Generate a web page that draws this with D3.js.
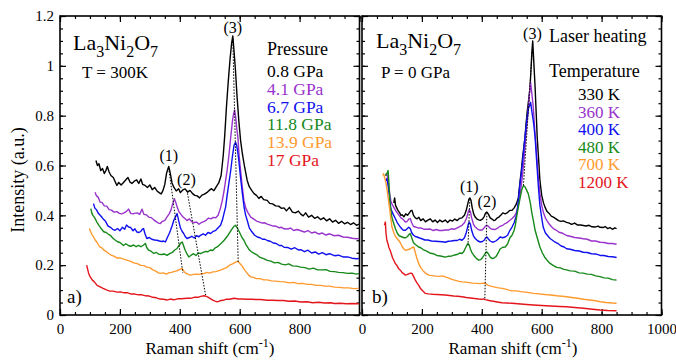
<!DOCTYPE html>
<html>
<head>
<meta charset="utf-8">
<script src="https://cdn.jsdelivr.net/npm/d3@7"></script>
<style>
  body { margin: 0; background: #fff; }
  svg text { font-family: "Liberation Serif", "Times New Roman", serif; }
</style>
</head>
<body>
<div id="chart"></div>
<script>
var svgWidth = 676;
var svgHeight = 360;

// panel a) pressure series
var pressureLabels = ["0.8 GPa", "4.1 GPa", "6.7 GPa", "11.8 GPa", "13.9 GPa", "17 GPa"];
// panel b) laser heating series
var temperatureLabels = ["330 K", "360 K", "400 K", "480 K", "700 K", "1200 K"];
var colors = ["#000000", "#9933cc", "#1010ee", "#17891a", "#ff9a2e", "#e3161c"];

var yTicks = [0, 0.2, 0.4, 0.6, 0.8, 1, 1.2];
var xTicksLeft = [0, 200, 400, 600, 800];
var xTicksRight = [0, 200, 400, 600, 800, 1000];

var p08 = [[120,0.62],[125,0.60],[130,0.607],[136,0.58],[142,0.588],[148,0.568],[152,0.576],[158,0.596],[164,0.574],[170,0.56],[178,0.552],[185,0.533],[190,0.52],[196,0.532],[204,0.522],[212,0.532],[220,0.543],[227,0.552],[234,0.533],[240,0.528],[248,0.537],[256,0.542],[263,0.528],[270,0.546],[276,0.524],[284,0.52],[292,0.512],[300,0.522],[308,0.503],[316,0.512],[324,0.498],[332,0.49],[338,0.486],[344,0.5],[350,0.525],[356,0.57],[363,0.596],[368,0.57],[374,0.53],[380,0.513],[388,0.498],[396,0.507],[402,0.491],[410,0.502],[418,0.506],[426,0.493],[434,0.5],[442,0.488],[450,0.48],[458,0.478],[466,0.47],[474,0.481],[482,0.485],[490,0.491],[498,0.5],[506,0.507],[514,0.499],[522,0.515],[530,0.53],[538,0.56],[545,0.64],[550,0.72],[556,0.84],[562,0.94],[568,1.03],[573,1.09],[577,1.12],[581,1.06],[586,0.98],[591,0.88],[597,0.78],[603,0.7],[609,0.647],[617,0.59],[625,0.54],[632,0.515],[640,0.5],[648,0.487],[656,0.48],[664,0.468],[672,0.476],[680,0.463],[692,0.46],[700,0.448],[710,0.446],[720,0.438],[730,0.437],[740,0.428],[748,0.43],[756,0.418],[766,0.432],[776,0.413],[786,0.41],[796,0.417],[804,0.405],[812,0.398],[820,0.41],[830,0.393],[840,0.4],[850,0.388],[860,0.394],[870,0.383],[880,0.39],[890,0.378],[900,0.386],[910,0.373],[920,0.38],[930,0.368],[940,0.376],[950,0.366],[960,0.372],[970,0.363],[980,0.37],[990,0.36],[998,0.365]];
var p41 = [[117,0.493],[122,0.478],[128,0.472],[134,0.453],[140,0.452],[148,0.438],[156,0.437],[164,0.423],[172,0.421],[180,0.413],[190,0.415],[198,0.408],[206,0.406],[214,0.41],[222,0.416],[229,0.425],[236,0.408],[244,0.406],[251,0.409],[258,0.41],[266,0.404],[274,0.425],[280,0.404],[288,0.402],[296,0.393],[304,0.391],[312,0.383],[320,0.376],[328,0.369],[335,0.367],[342,0.376],[350,0.38],[357,0.393],[364,0.405],[370,0.42],[376,0.445],[382,0.467],[387,0.45],[392,0.43],[397,0.415],[402,0.407],[410,0.394],[418,0.386],[424,0.379],[432,0.386],[440,0.374],[448,0.371],[456,0.373],[464,0.364],[472,0.371],[480,0.375],[488,0.38],[496,0.389],[504,0.386],[512,0.392],[520,0.39],[528,0.4],[536,0.43],[542,0.46],[548,0.5],[553,0.54],[558,0.58],[564,0.64],[570,0.713],[576,0.78],[580,0.81],[583,0.823],[587,0.79],[590,0.75],[594,0.713],[598,0.64],[603,0.58],[608,0.52],[614,0.46],[620,0.43],[628,0.41],[637,0.393],[646,0.386],[656,0.377],[666,0.373],[676,0.369],[684,0.37],[692,0.365],[702,0.361],[712,0.357],[722,0.356],[732,0.35],[740,0.352],[748,0.346],[760,0.345],[770,0.349],[780,0.339],[792,0.343],[804,0.338],[816,0.333],[828,0.339],[840,0.329],[852,0.333],[864,0.325],[876,0.329],[888,0.321],[900,0.326],[916,0.318],[930,0.32],[945,0.313],[960,0.312],[975,0.308],[990,0.306],[998,0.307]];
var p67 = [[112,0.447],[116,0.43],[122,0.422],[128,0.408],[134,0.40],[140,0.392],[146,0.383],[152,0.376],[160,0.358],[168,0.352],[176,0.344],[184,0.34],[192,0.347],[200,0.338],[208,0.352],[216,0.344],[222,0.361],[229,0.353],[236,0.351],[244,0.338],[250,0.346],[257,0.333],[264,0.331],[270,0.336],[275,0.345],[279,0.347],[284,0.325],[290,0.307],[298,0.311],[306,0.304],[316,0.301],[324,0.30],[332,0.297],[340,0.295],[346,0.297],[352,0.293],[358,0.31],[364,0.325],[369,0.34],[375,0.36],[380,0.38],[386,0.395],[391,0.407],[396,0.38],[402,0.35],[408,0.335],[413,0.327],[418,0.315],[424,0.307],[432,0.311],[440,0.316],[448,0.309],[456,0.318],[464,0.314],[469,0.32],[478,0.326],[486,0.32],[494,0.331],[503,0.327],[512,0.336],[520,0.34],[528,0.35],[536,0.36],[542,0.38],[548,0.41],[553,0.433],[558,0.48],[564,0.53],[570,0.58],[576,0.64],[581,0.68],[586,0.693],[590,0.68],[594,0.65],[597,0.62],[603,0.55],[609,0.487],[615,0.43],[620,0.4],[625,0.38],[632,0.35],[640,0.335],[650,0.32],[659,0.313],[668,0.31],[676,0.304],[684,0.304],[692,0.299],[702,0.296],[712,0.289],[722,0.287],[732,0.279],[740,0.279],[748,0.272],[760,0.271],[772,0.264],[784,0.27],[796,0.261],[804,0.262],[816,0.254],[828,0.26],[840,0.249],[852,0.253],[864,0.244],[876,0.25],[888,0.242],[900,0.246],[916,0.238],[930,0.24],[945,0.233],[960,0.233],[975,0.228],[990,0.226],[998,0.227]];
var p118 = [[103,0.427],[106,0.41],[110,0.40],[116,0.39],[123,0.373],[130,0.36],[138,0.346],[146,0.334],[154,0.331],[162,0.324],[168,0.32],[176,0.309],[184,0.301],[192,0.294],[200,0.291],[212,0.279],[220,0.286],[228,0.279],[236,0.276],[246,0.281],[254,0.274],[262,0.279],[270,0.274],[278,0.28],[285,0.287],[290,0.27],[296,0.26],[304,0.256],[313,0.247],[322,0.251],[330,0.244],[340,0.243],[348,0.245],[357,0.239],[366,0.246],[374,0.25],[382,0.26],[391,0.267],[398,0.28],[404,0.29],[408,0.293],[412,0.28],[418,0.26],[424,0.245],[430,0.233],[438,0.24],[446,0.246],[454,0.239],[462,0.249],[469,0.246],[478,0.251],[486,0.255],[494,0.254],[502,0.261],[510,0.259],[518,0.269],[525,0.273],[532,0.281],[540,0.29],[548,0.3],[558,0.315],[566,0.33],[574,0.345],[580,0.355],[586,0.36],[592,0.35],[598,0.335],[606,0.315],[614,0.30],[622,0.28],[630,0.265],[638,0.255],[648,0.247],[658,0.241],[668,0.231],[680,0.226],[692,0.219],[704,0.216],[716,0.209],[728,0.211],[740,0.204],[752,0.201],[764,0.205],[776,0.197],[790,0.196],[804,0.192],[818,0.19],[832,0.184],[846,0.188],[860,0.181],[874,0.181],[888,0.182],[902,0.175],[916,0.174],[930,0.171],[945,0.17],[960,0.167],[975,0.168],[990,0.164],[998,0.167]];
var p139 = [[98,0.347],[102,0.335],[106,0.325],[112,0.313],[118,0.3],[124,0.291],[132,0.274],[140,0.269],[148,0.259],[156,0.253],[164,0.246],[172,0.239],[180,0.236],[190,0.229],[200,0.229],[212,0.224],[223,0.22],[234,0.216],[246,0.209],[258,0.206],[270,0.199],[280,0.198],[290,0.192],[300,0.19],[310,0.181],[320,0.176],[328,0.169],[335,0.167],[345,0.169],[355,0.164],[365,0.17],[372,0.171],[380,0.174],[390,0.177],[400,0.183],[408,0.187],[414,0.175],[420,0.168],[428,0.163],[436,0.16],[446,0.163],[456,0.164],[466,0.163],[474,0.167],[480,0.166],[490,0.171],[500,0.168],[510,0.173],[520,0.174],[528,0.177],[536,0.18],[546,0.185],[556,0.19],[566,0.2],[576,0.205],[586,0.212],[594,0.215],[600,0.208],[606,0.2],[614,0.185],[622,0.172],[630,0.16],[637,0.153],[646,0.151],[656,0.146],[668,0.146],[680,0.141],[692,0.141],[706,0.137],[720,0.136],[735,0.134],[750,0.133],[765,0.129],[780,0.131],[795,0.126],[810,0.127],[825,0.123],[840,0.123],[855,0.119],[870,0.119],[885,0.116],[900,0.116],[916,0.112],[932,0.111],[948,0.109],[964,0.109],[980,0.106],[998,0.107]];
var p17 = [[89,0.20],[92,0.185],[95,0.17],[98,0.16],[101,0.153],[108,0.14],[116,0.131],[124,0.119],[134,0.113],[144,0.107],[155,0.101],[166,0.096],[178,0.096],[190,0.092],[202,0.093],[214,0.089],[226,0.089],[238,0.084],[250,0.084],[262,0.081],[274,0.081],[286,0.077],[298,0.076],[310,0.071],[322,0.069],[334,0.064],[346,0.063],[357,0.06],[368,0.064],[380,0.061],[392,0.065],[404,0.065],[414,0.066],[424,0.067],[436,0.067],[448,0.071],[460,0.071],[470,0.075],[478,0.077],[486,0.076],[494,0.072],[502,0.066],[510,0.06],[518,0.056],[525,0.053],[534,0.057],[544,0.059],[554,0.063],[566,0.063],[581,0.067],[596,0.064],[610,0.064],[625,0.063],[640,0.063],[655,0.062],[670,0.062],[692,0.059],[710,0.059],[728,0.058],[746,0.058],[764,0.055],[784,0.056],[804,0.052],[824,0.053],[844,0.049],[864,0.051],[884,0.048],[904,0.049],[916,0.046],[936,0.047],[956,0.045],[976,0.046],[998,0.045]];

var t330 = [[106,0.45],[109,0.47],[112,0.44],[116,0.43],[120,0.42],[126,0.41],[130,0.40],[134,0.402],[140,0.394],[146,0.406],[152,0.40],[158,0.41],[164,0.42],[167,0.42],[172,0.4],[178,0.39],[184,0.386],[190,0.392],[196,0.379],[204,0.386],[212,0.374],[220,0.381],[228,0.386],[236,0.374],[244,0.381],[252,0.371],[260,0.381],[268,0.374],[278,0.381],[286,0.371],[294,0.381],[302,0.377],[310,0.385],[318,0.379],[326,0.388],[334,0.39],[342,0.4],[348,0.42],[353,0.445],[357,0.465],[360,0.47],[364,0.46],[368,0.43],[373,0.405],[378,0.393],[384,0.385],[390,0.382],[395,0.38],[402,0.385],[408,0.395],[413,0.41],[417,0.413],[422,0.405],[428,0.39],[434,0.385],[440,0.379],[445,0.381],[452,0.39],[458,0.394],[464,0.401],[470,0.41],[478,0.406],[486,0.411],[494,0.42],[501,0.42],[508,0.43],[515,0.445],[522,0.47],[528,0.54],[532,0.58],[536,0.63],[540,0.67],[544,0.713],[548,0.77],[552,0.82],[556,0.86],[561,0.913],[564,0.98],[567,1.05],[570,1.10],[573,1.03],[576,0.96],[578,0.913],[582,0.8],[585,0.713],[590,0.62],[594,0.54],[600,0.48],[606,0.45],[611,0.433],[618,0.415],[626,0.406],[632,0.397],[639,0.393],[648,0.386],[656,0.379],[664,0.376],[672,0.378],[683,0.372],[692,0.369],[700,0.364],[710,0.369],[720,0.361],[730,0.361],[739,0.359],[748,0.357],[758,0.36],[768,0.354],[778,0.353],[788,0.357],[795,0.352],[804,0.351],[812,0.355],[820,0.347],[828,0.351],[836,0.344],[844,0.35],[850,0.347]];
var t360 = [[78,0.56],[83,0.567],[87,0.54],[92,0.49],[96,0.46],[100,0.445],[106,0.433],[112,0.42],[118,0.41],[124,0.40],[130,0.39],[134,0.387],[140,0.38],[145,0.373],[150,0.375],[156,0.385],[161,0.387],[166,0.37],[172,0.355],[180,0.353],[189,0.349],[198,0.349],[208,0.344],[218,0.344],[228,0.345],[238,0.339],[248,0.343],[258,0.339],[268,0.339],[278,0.341],[288,0.341],[298,0.346],[308,0.344],[318,0.35],[326,0.355],[334,0.36],[342,0.37],[348,0.385],[352,0.4],[355,0.415],[358,0.423],[362,0.415],[366,0.39],[372,0.365],[378,0.353],[386,0.345],[395,0.34],[402,0.342],[408,0.35],[413,0.358],[417,0.36],[422,0.356],[428,0.348],[436,0.344],[445,0.343],[454,0.35],[461,0.356],[470,0.36],[478,0.367],[486,0.372],[494,0.38],[501,0.387],[508,0.395],[515,0.41],[522,0.44],[528,0.487],[534,0.54],[540,0.61],[544,0.673],[550,0.76],[556,0.84],[560,0.9],[563,0.933],[567,0.89],[572,0.833],[577,0.74],[583,0.647],[588,0.56],[594,0.487],[600,0.44],[606,0.41],[612,0.39],[617,0.38],[625,0.365],[632,0.355],[639,0.347],[648,0.341],[658,0.332],[670,0.328],[683,0.319],[695,0.316],[710,0.311],[725,0.309],[739,0.306],[752,0.304],[766,0.297],[780,0.297],[795,0.292],[808,0.291],[822,0.287],[836,0.287],[850,0.284]];
var t400 = [[78,0.54],[83,0.547],[87,0.52],[92,0.47],[96,0.43],[100,0.415],[106,0.40],[112,0.385],[118,0.37],[124,0.36],[130,0.35],[136,0.342],[140,0.34],[145,0.34],[150,0.345],[156,0.352],[161,0.347],[166,0.33],[172,0.32],[178,0.315],[184,0.313],[192,0.309],[200,0.306],[210,0.301],[220,0.301],[232,0.297],[244,0.296],[256,0.295],[268,0.294],[278,0.292],[288,0.296],[298,0.297],[308,0.299],[318,0.299],[326,0.304],[334,0.30],[342,0.31],[348,0.33],[352,0.35],[355,0.365],[358,0.373],[362,0.365],[366,0.34],[372,0.318],[378,0.307],[386,0.298],[395,0.293],[402,0.295],[408,0.3],[413,0.31],[417,0.313],[422,0.305],[428,0.297],[434,0.293],[440,0.293],[448,0.298],[455,0.305],[461,0.313],[470,0.31],[478,0.313],[486,0.32],[494,0.34],[501,0.353],[508,0.37],[512,0.385],[517,0.407],[522,0.46],[527,0.52],[533,0.58],[538,0.64],[544,0.71],[550,0.78],[556,0.83],[563,0.853],[568,0.81],[573,0.77],[578,0.713],[583,0.62],[589,0.513],[594,0.44],[600,0.39],[605,0.353],[612,0.33],[620,0.318],[628,0.307],[636,0.3],[645,0.292],[655,0.286],[665,0.277],[675,0.273],[683,0.266],[695,0.264],[710,0.259],[725,0.257],[739,0.252],[752,0.251],[766,0.246],[780,0.245],[795,0.239],[808,0.239],[822,0.235],[836,0.234],[850,0.231]];
var t480 = [[78,0.56],[84,0.57],[87,0.58],[90,0.53],[94,0.44],[100,0.39],[106,0.367],[112,0.345],[118,0.328],[124,0.318],[130,0.315],[134,0.313],[140,0.31],[146,0.31],[152,0.315],[156,0.322],[161,0.327],[166,0.31],[172,0.29],[178,0.283],[184,0.278],[189,0.273],[196,0.27],[206,0.261],[216,0.256],[226,0.249],[238,0.246],[250,0.239],[262,0.237],[278,0.232],[290,0.236],[300,0.237],[310,0.241],[320,0.244],[328,0.249],[334,0.247],[340,0.255],[345,0.268],[350,0.28],[354,0.287],[358,0.28],[362,0.265],[367,0.25],[373,0.24],[380,0.23],[386,0.223],[390,0.22],[396,0.222],[402,0.23],[408,0.24],[413,0.25],[417,0.253],[422,0.245],[428,0.232],[434,0.227],[440,0.228],[448,0.235],[455,0.25],[461,0.265],[470,0.272],[478,0.273],[486,0.285],[494,0.31],[501,0.32],[508,0.34],[512,0.36],[517,0.4],[522,0.433],[528,0.47],[534,0.505],[539,0.52],[544,0.515],[550,0.5],[555,0.487],[562,0.45],[567,0.41],[572,0.38],[578,0.34],[585,0.31],[594,0.273],[602,0.25],[610,0.232],[618,0.22],[628,0.207],[638,0.199],[650,0.191],[662,0.189],[674,0.183],[683,0.181],[695,0.177],[710,0.176],[725,0.169],[739,0.168],[752,0.164],[766,0.163],[780,0.157],[795,0.154],[808,0.149],[822,0.148],[836,0.142],[850,0.14]];
var t700 = [[70,0.56],[72,0.567],[76,0.55],[80,0.53],[84,0.5],[87,0.473],[92,0.43],[96,0.39],[100,0.353],[106,0.33],[112,0.315],[118,0.305],[122,0.30],[128,0.29],[134,0.275],[140,0.265],[145,0.26],[152,0.262],[160,0.265],[166,0.27],[173,0.273],[178,0.25],[184,0.225],[189,0.207],[196,0.19],[204,0.178],[212,0.168],[223,0.16],[234,0.158],[246,0.156],[258,0.155],[268,0.157],[278,0.153],[290,0.148],[300,0.143],[312,0.139],[324,0.135],[334,0.133],[346,0.132],[358,0.13],[370,0.128],[382,0.127],[394,0.126],[404,0.128],[412,0.127],[420,0.12],[430,0.116],[440,0.113],[452,0.11],[467,0.107],[480,0.104],[490,0.1],[501,0.097],[515,0.097],[530,0.094],[545,0.092],[558,0.09],[572,0.087],[590,0.085],[610,0.082],[630,0.08],[650,0.077],[668,0.075],[683,0.073],[700,0.07],[720,0.067],[740,0.063],[760,0.06],[780,0.057],[795,0.053],[815,0.05],[835,0.048],[850,0.047]];
var t1200 = [[75,0.36],[78,0.373],[80,0.33],[83,0.30],[87,0.285],[90,0.27],[94,0.26],[98,0.245],[102,0.23],[106,0.22],[111,0.207],[116,0.2],[122,0.187],[128,0.18],[134,0.17],[140,0.165],[145,0.16],[150,0.162],[156,0.165],[162,0.168],[167,0.167],[172,0.155],[178,0.14],[184,0.128],[189,0.12],[196,0.105],[204,0.095],[211,0.087],[222,0.085],[236,0.083],[250,0.082],[264,0.081],[278,0.08],[292,0.078],[306,0.076],[320,0.075],[334,0.073],[348,0.07],[362,0.068],[376,0.066],[390,0.064],[400,0.063],[406,0.065],[412,0.062],[424,0.058],[438,0.055],[452,0.052],[467,0.049],[484,0.048],[501,0.047],[520,0.045],[540,0.043],[560,0.041],[572,0.04],[600,0.038],[630,0.036],[660,0.034],[683,0.033],[710,0.03],[740,0.027],[770,0.023],[795,0.02],[820,0.018],[850,0.017]];

var pressureSeries = [p08, p41, p67, p118, p139, p17];
var temperatureSeries = [t330, t360, t400, t480, t700, t1200];

// dotted guides following the modes (1), (2), (3)
var leftGuides = [[[363,0.59],[410,0.17]], [[424,0.50],[486,0.08]], [[577,1.11],[595,0.21]]];
var rightGuides = [[[360,0.465],[354,0.28]], [[417,0.41],[410,0.06]], [[570,1.09],[539,0.52]]];
var leftModes = [["(1)",363,0.64], ["(2)",422,0.54], ["(3)",577,1.152]];
var rightModes = [["(1)",358,0.513], ["(2)",417,0.453], ["(3)",569,1.128]];

var svg = d3.select("#chart")
    .append("svg")
    .attr("width", svgWidth)
    .attr("height", svgHeight)
    .attr("font-family", "Liberation Serif, serif");

var yScale = d3.scaleLinear().domain([0, 1.2]).range([315, 16]);
var xLeft = d3.scaleLinear().domain([0, 1000]).range([60, 359.5]);
var xRight = d3.scaleLinear().domain([0, 1000]).range([362, 661.5]);

var yMinor = d3.range(0, 1.2001, 0.05);
var xMinor = d3.range(0, 1000.1, 50);

function drawPanel(x, id, xLabels, showYLabels) {
    var x0 = x.range()[0], x1 = x.range()[1];
    svg.append("clipPath").attr("id", id)
        .append("rect")
        .attr("x", x0).attr("y", 16)
        .attr("width", x1 - x0).attr("height", 299);

    // minor ticks
    [d3.axisBottom(x).tickValues(xMinor).tickSizeInner(-3).tickSizeOuter(0).tickFormat(""),
     d3.axisTop(x).tickValues(xMinor).tickSizeInner(-3).tickSizeOuter(0).tickFormat("")]
        .forEach(function(ax, i) {
            svg.append("g").attr("class", "tk")
                .attr("transform", `translate(0, ${i == 0 ? 315 : 16})`)
                .call(ax);
        });
    [d3.axisLeft(yScale).tickValues(yMinor).tickSizeInner(-3).tickSizeOuter(0).tickFormat(""),
     d3.axisRight(yScale).tickValues(yMinor).tickSizeInner(-3).tickSizeOuter(0).tickFormat("")]
        .forEach(function(ax, i) {
            svg.append("g").attr("class", "tk")
                .attr("transform", `translate(${i == 0 ? x0 : x1}, 0)`)
                .call(ax);
        });

    // major ticks
    svg.append("g").attr("class", "tk ax")
        .attr("transform", "translate(0, 315)")
        .call(d3.axisBottom(x).tickValues(xLabels).tickSizeInner(-6).tickSizeOuter(0)
            .tickPadding(8).tickFormat(d3.format("d")));
    svg.append("g").attr("class", "tk")
        .attr("transform", "translate(0, 16)")
        .call(d3.axisTop(x).tickValues(xTicksRight).tickSizeInner(-6).tickSizeOuter(0).tickFormat(""));
    var left = d3.axisLeft(yScale).tickValues(yTicks).tickSizeInner(-6).tickSizeOuter(0).tickPadding(6)
        .tickFormat(showYLabels ? d3.format("~g") : "");
    svg.append("g").attr("class", "tk ax")
        .attr("transform", `translate(${x0}, 0)`)
        .call(left);
    svg.append("g").attr("class", "tk")
        .attr("transform", `translate(${x1}, 0)`)
        .call(d3.axisRight(yScale).tickValues(yTicks).tickSizeInner(-6).tickSizeOuter(0).tickFormat(""));

    svg.append("rect")
        .attr("x", x0).attr("y", 16)
        .attr("width", x1 - x0).attr("height", 299)
        .attr("fill", "none")
        .attr("stroke", "#000")
        .attr("stroke-width", 1.6);
}

drawPanel(xLeft, "clipL", xTicksLeft, true);
drawPanel(xRight, "clipR", xTicksRight, false);

svg.selectAll(".tk").attr("font-family", null);
svg.selectAll(".tk path").remove();
svg.selectAll(".tk line").attr("stroke", "#000").attr("stroke-width", 1.2);
svg.selectAll(".ax text")
    .attr("font-size", 15)
    .attr("fill", "#000");

function drawCurves(x, series, clipId, guides, modes) {
    var line = d3.line()
        .x(d => x(d[0]))
        .y(d => yScale(d[1]));

    var g = svg.append("g").attr("clip-path", `url(#${clipId})`);

    g.selectAll("path.curve")
        .data(series)
        .enter()
        .append("path")
        .attr("class", "curve")
        .attr("d", d => line(d))
        .attr("fill", "none")
        .attr("stroke", (d, i) => colors[i])
        .attr("stroke-width", 1.4)
        .attr("stroke-linejoin", "round");

    g.selectAll("path.guide")
        .data(guides)
        .enter()
        .append("path")
        .attr("class", "guide")
        .attr("d", d => line(d))
        .attr("fill", "none")
        .attr("stroke", "#000")
        .attr("stroke-width", 1)
        .attr("stroke-dasharray", "1.5,1.5");

    svg.selectAll(null)
        .data(modes)
        .enter()
        .append("text")
        .attr("x", d => x(d[1]))
        .attr("y", d => yScale(d[2]) + 5)
        .attr("text-anchor", "middle")
        .attr("font-size", 16)
        .text(d => d[0]);
}

drawCurves(xLeft, pressureSeries, "clipL", leftGuides, leftModes);
drawCurves(xRight, temperatureSeries, "clipR", rightGuides, rightModes);

// compound name
function formula(xp, yp) {
    var t = svg.append("text")
        .attr("x", xp)
        .attr("y", yp)
        .attr("font-size", 22);
    t.append("tspan").text("La");
    t.append("tspan").attr("font-size", 16).attr("dy", 7).text("3");
    t.append("tspan").attr("dy", -7).text("Ni");
    t.append("tspan").attr("font-size", 16).attr("dy", 7).text("2");
    t.append("tspan").attr("dy", -7).text("O");
    t.append("tspan").attr("font-size", 16).attr("dy", 7).text("7");
}
formula(73, 50);
formula(376, 48);

svg.append("text").attr("x", 82).attr("y", 78).attr("font-size", 17).text("T = 300K");
svg.append("text").attr("x", 381).attr("y", 78).attr("font-size", 17).text("P = 0 GPa");

svg.append("text").attr("x", 267).attr("y", 55).attr("font-size", 18).text("Pressure");
svg.selectAll(null)
    .data(pressureLabels)
    .enter()
    .append("text")
    .attr("x", 267)
    .attr("y", (d, i) => 77 + i * 17.8)
    .attr("font-size", 17.5)
    .attr("fill", (d, i) => colors[i])
    .text(d => d);

svg.append("text").attr("x", 549).attr("y", 42).attr("font-size", 18).text("Laser heating");
svg.append("text").attr("x", 549).attr("y", 77).attr("font-size", 18).text("Temperature");
svg.selectAll(null)
    .data(temperatureLabels)
    .enter()
    .append("text")
    .attr("x", 578)
    .attr("y", (d, i) => 100 + i * 17.6)
    .attr("font-size", 17)
    .attr("fill", (d, i) => colors[i])
    .text(d => d);

svg.append("text").attr("x", 67).attr("y", 303).attr("font-size", 19).text("a)");
svg.append("text").attr("x", 372).attr("y", 303).attr("font-size", 19).text("b)");

// axis titles
[210, 513].forEach(function(cx) {
    var t = svg.append("text")
        .attr("x", cx)
        .attr("y", 354)
        .attr("text-anchor", "middle")
        .attr("font-size", 17);
    t.append("tspan").text("Raman shift (cm");
    t.append("tspan").attr("font-size", 12).attr("dy", -7).text("-1");
    t.append("tspan").attr("dy", 7).text(")");
});

svg.append("text")
    .attr("transform", "translate(24, 180) rotate(-90)")
    .attr("text-anchor", "middle")
    .attr("font-size", 18)
    .text("Intensity (a.u.)");
</script>
</body>
</html>
